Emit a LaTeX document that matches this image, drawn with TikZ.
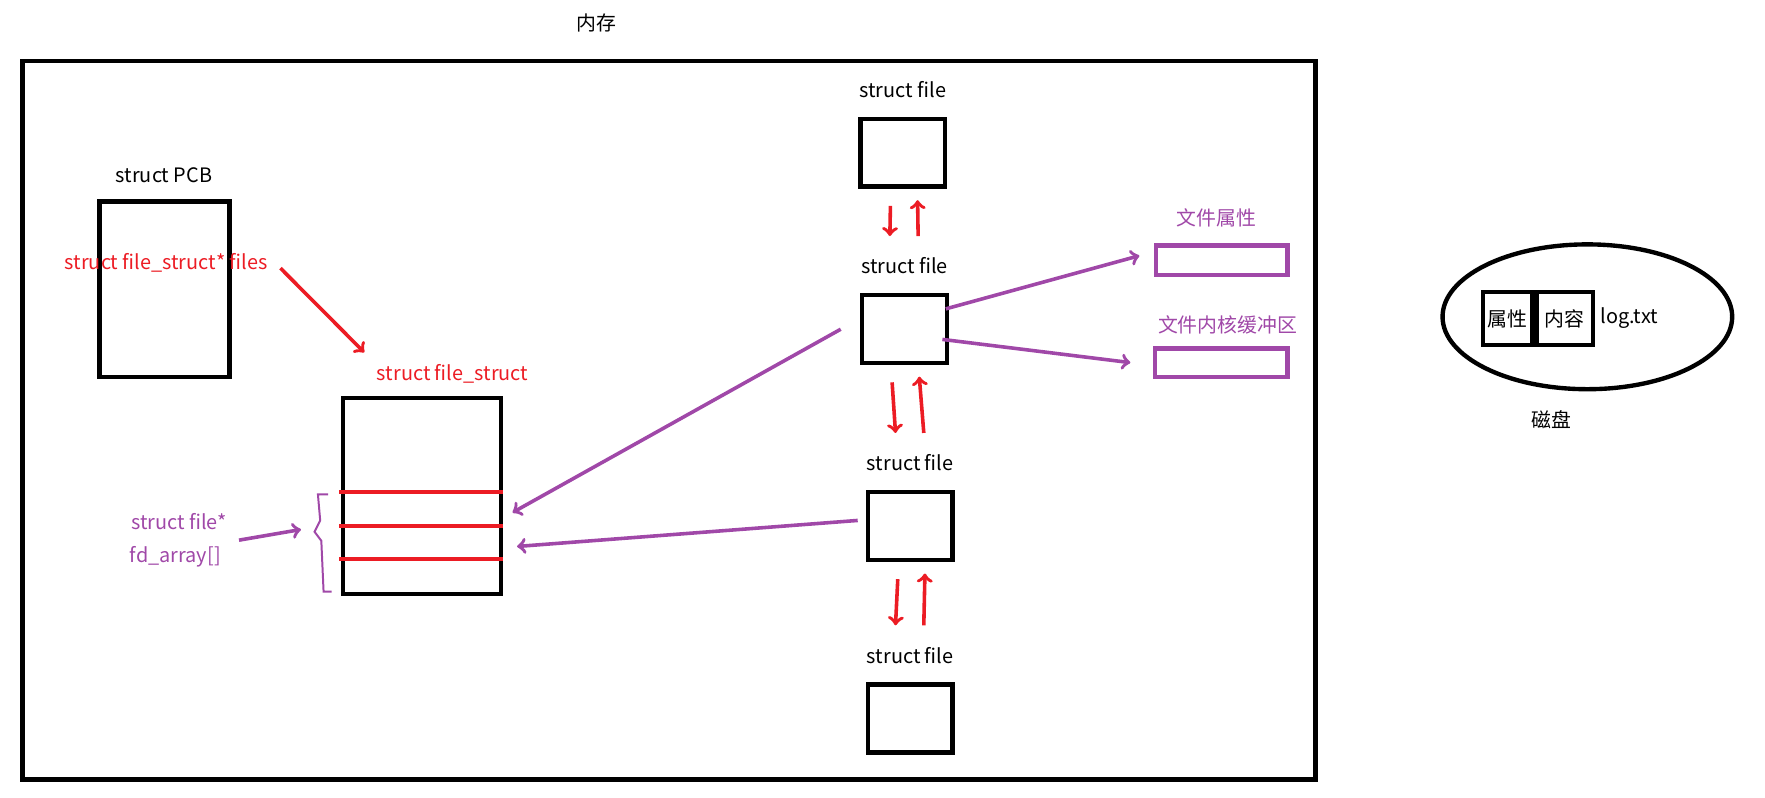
\documentclass[tikz,border=0pt]{standalone}
\usepackage{fontspec}
\setmainfont{Noto Sans CJK SC}
\usepackage{tikz}
\usetikzlibrary{calc,positioning,shapes.geometric}
\definecolor{pur}{RGB}{160,72,168}
\definecolor{myred}{RGB}{236,28,36}
\tikzset{
  box/.style={draw, line width=2.2pt, inner sep=0pt},
  lbl/.style={font=\fontsize{10}{12}\selectfont},
  redarr/.style={->, draw=myred, line width=1.8pt},
  purarr/.style={->, draw=pur, line width=1.8pt},
}
\begin{document}
\begin{tikzpicture}[x=0.02cm, y=-0.02cm]
          \useasboundingbox (0,0) rectangle (1560,705);
          \node [lbl] (mem) at (527,20) {内存};
          \draw [line width=2.4pt] (20,54) rectangle (1163,689);
          % PCB
          \node [lbl] (pcbl) at (145,155) {struct PCB};
          \node [box, minimum width=115*0.02cm, minimum height=155*0.02cm] (pcb) at (145.5,255.5) {};
          \node [lbl, text=myred] (files) at (147,232) {struct file\_struct* files};
          % file_struct
          \node [lbl, text=myred] (fsl) at (400,330) {struct file\_struct};
          \node [box, minimum width=140*0.02cm, minimum height=173*0.02cm] (fs) at (373,438.5) {};
          \foreach \y/\n in {435/r1, 465/r2, 494/r3} {
            \coordinate (\n) at (445,\y);
            \draw [myred, line width=2.2pt] (300,\y) -- (\n);
          }
          \draw [redarr] (files.east) ++(5,5) coordinate (fr) -- ($(fsl.north west)+(-5,-4)$);
          % fd_array
          \node [lbl, text=pur] (fd1) at (158,461) {struct file*};
          \node [lbl, text=pur] (fd2) at (155,492) {fd\_array[]};
          \draw [pur, line width=1pt] (290,437) -- (281,437) -- (283,460) -- (278,470) -- (284,478) -- (286,523) -- (293,523);
          \coordinate (br) at (266,468);
          \draw [purarr] ($(fd1.south east)+(5,3)$) -- (br);
          % struct file chain
          \foreach \n/\x/\y in {f1/798/135, f2/799.5/291, f3/804.5/465, f4/804.5/635} {
            \node [box, minimum width=75*0.02cm, minimum height=60*0.02cm] (\n) at (\x,\y) {};
            \node [lbl, above=6pt] (\n l) at (\n.north) {struct file};
          }
          \foreach \a/\b in {f1/f2, f2/f3, f3/f4} {
            \draw [redarr] ($(\a.south)+(-11,15)$) -- ($(\b l.north)+(-13,-13)$);
            \draw [redarr] ($(\b l.north)+(12,-13)$) -- ($(\a.south)+(13,10)$);
          }
          % pointers back to fd_array
          \draw [purarr] ($(f2.west)+(-17,0)$) -- ($(r1)+(8,18)$);
          \draw [purarr] ($(f3.west)+(-7,-5)$) -- ($(r2)+(12,18)$);
          % attributes and buffer
          \node [lbl, text=pur] (attrl) at (1075,193) {文件属性};
          \node [draw=pur, line width=2.2pt, minimum width=116*0.02cm, minimum height=26*0.02cm] (attr) at (1080,230) {};
          \node [lbl, text=pur] (bufl) at (1085,287) {文件内核缓冲区};
          \node [draw=pur, line width=2.2pt, minimum width=117*0.02cm, minimum height=25*0.02cm] (buf) at (1079.5,320.5) {};
          \draw [purarr] ($(f2.east)+(-3,-18)$) -- ($(attr.west)+(-13,-4)$);
          \draw [purarr] ($(f2.east)+(-6,9)$) -- ($(buf.west)+(-20,0)$);
          % disk
          \node [draw, ellipse, line width=2.2pt, minimum width=256*0.02cm, minimum height=128*0.02cm] (disk) at (1403,280) {};
          \node [box, lbl, minimum width=43*0.02cm, minimum height=47*0.02cm] (attrd) at (1332.5,281.5) {属性};
          \node [box, lbl, minimum width=50*0.02cm, minimum height=47*0.02cm, right=0pt of attrd] (cont) {内容};
          \node [lbl] (log) at (1440,281) {log.txt};
          \node [lbl] (diskl) at (1371,371) {磁盘};
\end{tikzpicture}
\end{document}
